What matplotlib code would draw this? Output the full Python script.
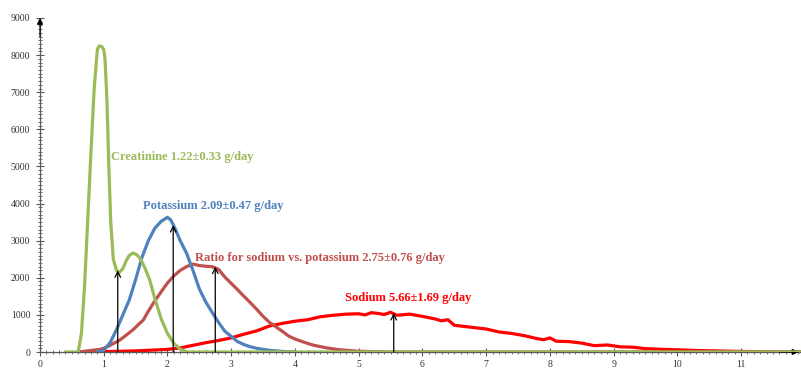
import matplotlib
matplotlib.use("Agg")
import matplotlib.pyplot as plt
from matplotlib.ticker import MultipleLocator

# ---- data ----
creat_x = [0.4, 0.6, 0.65, 0.7, 0.75, 0.8, 0.85, 0.9, 0.93, 0.97, 1.0, 1.02, 1.05, 1.08, 1.11,
           1.15, 1.2, 1.25, 1.3, 1.35, 1.4, 1.46, 1.52, 1.58, 1.65, 1.72, 1.8, 1.9, 2.0, 2.1,
           2.2, 2.3, 12.0]
creat_y = [0, 0, 500, 1800, 3600, 5400, 7100, 8150, 8250, 8230, 8150, 7900, 6800, 5000, 3500,
           2500, 2200, 2150, 2250, 2450, 2600, 2670, 2620, 2500, 2250, 1950, 1450, 900, 500, 230,
           80, 0, 0]

potas_x = [0.9, 1.0, 1.1, 1.2, 1.3, 1.4, 1.5, 1.6, 1.7, 1.8, 1.9, 2.0, 2.05, 2.1, 2.2, 2.3,
           2.4, 2.5, 2.6, 2.7, 2.8, 2.9, 3.0, 3.1, 3.2, 3.3, 3.4, 3.5, 3.6, 3.8, 4.0]
potas_y = [0, 50, 250, 600, 1000, 1400, 1950, 2550, 3000, 3330, 3520, 3630, 3560, 3400, 3000,
           2660, 2200, 1700, 1350, 1070, 800, 560, 420, 280, 200, 140, 100, 70, 45, 15, 0]

ratio_x = [0.6, 0.94, 1.0, 1.1, 1.25, 1.35, 1.46, 1.55, 1.62, 1.7, 1.78, 1.9, 2.0, 2.1, 2.2,
           2.3, 2.4, 2.5, 2.6, 2.7, 2.8, 2.9, 3.0, 3.1, 3.2, 3.3, 3.4, 3.5, 3.6, 3.7, 3.8,
           3.9, 4.0, 4.1, 4.2, 4.3, 4.5, 4.7, 5.0, 5.5, 12.0]
ratio_y = [0, 70, 100, 180, 320, 450, 600, 750, 860, 1100, 1320, 1620, 1860, 2050, 2200,
           2300, 2370, 2330, 2310, 2300, 2230, 2020, 1850, 1680, 1500, 1330, 1150, 960, 800, 680, 560,
           430, 350, 290, 230, 180, 110, 60, 20, 0, 0]

sodium_x = [0.6, 1.0, 1.5, 2.0, 2.2, 2.4, 2.6, 2.8, 3.0, 3.2, 3.4, 3.6, 3.8, 4.0, 4.2, 4.4,
            4.6, 4.8, 5.0, 5.1, 5.2, 5.3, 5.4, 5.5, 5.6, 5.8, 6.0, 6.2, 6.3, 6.4, 6.5, 6.7,
            7.0, 7.2, 7.4, 7.6, 7.8, 7.9, 8.0, 8.1, 8.3, 8.5, 8.7, 8.9, 9.1, 9.3, 9.5, 9.8,
            10.0, 10.3, 10.6, 11.0, 11.5, 12.0]
sodium_y = [0, 10, 30, 70, 110, 180, 250, 310, 380, 480, 570, 700, 770, 830, 870, 950,
            990, 1020, 1030, 1000, 1060, 1040, 1010, 1070, 990, 1020, 960, 890, 840, 870, 720, 680,
            620, 540, 500, 440, 360, 330, 380, 290, 280, 240, 170, 190, 140, 130, 90, 70,
            60, 40, 30, 15, 5, 0]

arrow_x = [1.22, 2.09, 2.75, 5.55]
arrow_top = [2200, 3420, 2300, 1050]

labels = ["Creatinine 1.22±0.33 g/day", "Potassium 2.09±0.47 g/day",
          "Ratio for sodium vs. potassium 2.75±0.76 g/day", "Sodium 5.66±1.69 g/day"]
label_pos = [(1.11, 5250), (1.62, 3930), (2.43, 2530), (4.78, 1455)]

c_green, c_blue, c_brown, c_red = "#9BBB59", "#4F81BD", "#C0504D", "#FF0000"
label_colors = [c_green, c_blue, c_brown, c_red]

# ---- figure ----
plt.rcParams['font.family'] = ['Liberation Serif', 'DejaVu Serif']
fig = plt.figure(figsize=(8.01, 3.68), dpi=100)
W, H = 801, 368
ax = fig.add_axes([40 / W, (H - 352) / H, (801 - 40) / W, (352 - 18) / H])
ax.set_xlim(0, 11.94)
ax.set_ylim(0, 9000)

lw = 2.3
ax.plot(sodium_x, sodium_y, color=c_red, lw=lw, zorder=2, solid_joinstyle='round')
ax.plot(ratio_x, ratio_y, color=c_brown, lw=lw, zorder=3, solid_joinstyle='round')
ax.plot(potas_x, potas_y, color=c_blue, lw=lw, zorder=4, solid_joinstyle='round')
ax.plot(creat_x, creat_y, color=c_green, lw=lw, zorder=5, solid_joinstyle='round')

for xa, ya in zip(arrow_x, arrow_top):
    ax.annotate('', xy=(xa, ya), xytext=(xa, 0),
                arrowprops=dict(arrowstyle='->', lw=0.9, color='black',
                                mutation_scale=10, shrinkA=0, shrinkB=0),
                zorder=6)

for t, (xp, yp), c in zip(labels, label_pos, label_colors):
    ax.text(xp, yp, t, color=c, fontsize=9, fontweight='bold', va='center', ha='left', zorder=7)

# spines / ticks
for s in ['top', 'right']:
    ax.spines[s].set_visible(False)
for s in ['left', 'bottom']:
    ax.spines[s].set_color('#595959')
    ax.spines[s].set_linewidth(0.9)

ax.xaxis.set_major_locator(MultipleLocator(1))
ax.xaxis.set_minor_locator(MultipleLocator(0.1))
ax.yaxis.set_major_locator(MultipleLocator(1000))
ax.yaxis.set_minor_locator(MultipleLocator(100))
ax.tick_params(which='major', direction='inout', length=6, width=0.8, color='#595959',
               labelsize=7, labelcolor='#333333')
ax.tick_params(which='minor', direction='inout', length=3, width=0.6, color='#595959')
ax.tick_params(axis='x', pad=3)
ax.tick_params(axis='y', pad=4)

# partially visible "12" at right edge
ax.text(12.0, -480, "12", transform=ax.transData, fontsize=7, color='#333333',
        ha='center', va='top', clip_on=False)

# axis arrows
ax.annotate('', xy=(0, 9000), xytext=(0, 8500),
            arrowprops=dict(arrowstyle='-|>', color='black', lw=0.8, mutation_scale=9,
                            shrinkA=0, shrinkB=0), annotation_clip=False)
ax.annotate('', xy=(11.9, 0), xytext=(11.6, 0),
            arrowprops=dict(arrowstyle='-|>', color='black', lw=0.8, mutation_scale=9,
                            shrinkA=0, shrinkB=0), annotation_clip=False)

fig.savefig("out.png", dpi=100)
